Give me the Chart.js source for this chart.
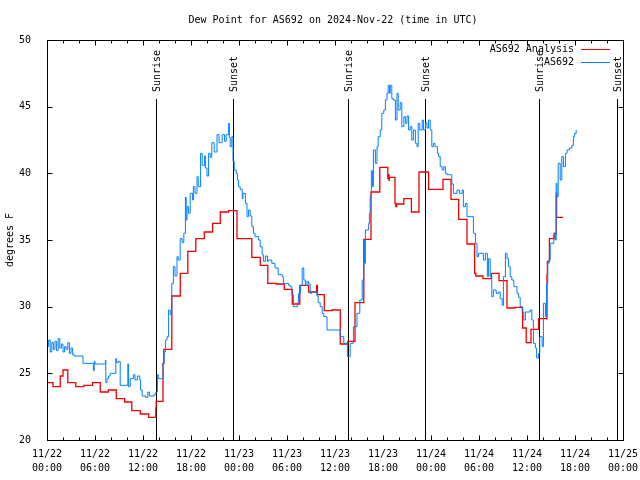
<!DOCTYPE html>
<html>
<head>
<meta charset="utf-8">
<title>Dew Point for AS692</title>
<script src="https://cdn.jsdelivr.net/npm/chart.js@4/dist/chart.umd.min.js"></script>
<style>
    html, body { margin: 0; padding: 0; background: #fff; }
    #wrap { width: 640px; height: 480px; }
</style>
</head>
<body>
<div id="wrap"><canvas id="chartDew"></canvas></div>
<script>
// hours since 11/22 00:00 UTC, dew point in degrees F
const analysisHours = [0, 0.75, 1.66, 2.0, 2.6, 3.6, 4.6, 5.7, 6.66, 7.66, 8.66, 9.7, 10.6, 11.66, 12.7,
    13.6, 13.65, 14.5, 14.6, 15.6, 16.66, 17.6, 18.6, 19.66, 20.7, 21.66, 22.7, 23.75, 25.6, 26.66,
    27.6, 28.66, 29.66, 30.66, 31.6, 32.7, 33.7, 33.8, 34.66, 35.6, 36.66, 37.6, 38.5, 39.6, 40.5,
    41.6, 42.6, 42.7, 42.75, 42.8, 43.5, 43.6, 43.7, 44.6, 45.55, 46.5, 47.7, 49.5, 50.5, 51.45,
    52.5, 53.45, 53.6, 54.5, 55.55, 56.5, 57.5, 58.5, 59.45, 59.9, 60.5, 61.45, 62.5, 62.55, 62.8,
    63.4, 63.65, 63.7, 64.5];
const analysisValues = [24.3, 24.0, 24.8, 25.25, 24.3, 24.0, 24.1, 24.3, 23.6, 23.75, 23.1, 22.85, 22.2, 21.95, 21.7,
    22.4, 22.9, 25.75, 26.8, 30.8, 32.5, 34.15, 35.1, 35.6, 36.25, 37.1, 37.2, 35.1, 33.7, 33.1,
    31.75, 31.7, 31.3, 30.2, 31.6, 31.1, 31.6, 30.9, 29.7, 29.75, 27.2, 27.4, 30.3, 35.05, 38.6,
    40.45, 39.6, 39.9, 39.5, 39.7, 37.75, 37.5, 37.7, 38.1, 37.1, 40.1, 38.8, 39.55, 38.05, 36.55,
    34.7, 32.5, 32.3, 32.1, 32.5, 31.95, 29.9, 29.95, 28.4, 27.3, 28.3, 29.1, 32.4, 33.4, 35.1,
    35.5, 38.5, 36.7, 36.7];

const obsHours = [0.0, 0.2, 0.4, 0.6, 0.8, 1.0, 1.2, 1.4, 1.6, 1.8, 2.0, 2.2, 2.4, 2.6, 2.8, 3.0, 3.2, 3.4,
    4.5, 5.8, 5.9, 6.0, 7.2, 7.3, 7.35, 7.5, 7.7, 7.9, 8.6, 8.7, 8.9, 9.15, 10.1, 10.2, 10.4, 10.8,
    11.0, 11.3, 11.6, 11.7, 11.9, 12.3, 12.6, 12.8, 13.4, 13.6, 13.8, 13.9, 14.2, 14.5, 14.65, 14.8,
    15.0, 15.2, 15.4, 15.6, 15.8, 16.0, 16.25, 16.4, 16.65, 16.9, 17.1, 17.3, 17.4, 17.5, 17.7, 17.9,
    18.2, 18.3, 18.5, 18.75, 18.9, 19.2, 19.4, 19.7, 19.8, 20.0, 20.2, 20.4, 20.6, 20.9, 21.25, 21.5,
    21.9, 22.2, 22.4, 22.7, 22.8, 22.9, 23.1, 23.25, 23.4, 23.65, 23.8, 23.95, 24.15, 24.4, 24.5, 24.8,
    25.0, 25.2, 25.4, 25.6, 25.8, 26.0, 26.45, 26.65, 26.9, 27.05, 27.3, 27.55, 27.7, 28.1, 28.5, 28.9,
    29.4, 29.55, 29.8, 30.2, 30.4, 30.6, 30.8, 31.05, 31.3, 31.45, 31.7, 31.9, 32.1, 32.3, 32.5, 32.7,
    32.9, 33.1, 33.75, 33.9, 34.15, 34.4, 34.6, 35.0, 36.65, 37.1, 37.55, 37.9, 38.3, 38.75, 39.1, 39.4,
    39.6, 39.7, 39.8, 40.2, 40.3, 40.4, 40.55, 40.7, 40.8, 41.05, 41.25, 41.4, 41.65, 41.85, 42.1, 42.3,
    42.5, 42.65, 42.8, 42.9, 43.1, 43.3, 43.55, 43.75, 43.9, 44.15, 44.35, 44.6, 44.8, 45.0, 45.2, 45.4,
    45.6, 45.8, 46.05, 46.25, 46.4, 46.6, 46.9, 47.05, 47.3, 47.5, 47.7, 47.9, 48.1, 48.3, 48.5, 48.8,
    48.95, 49.15, 49.4, 49.6, 49.8, 50.0, 50.4, 50.6, 50.8, 51.25, 51.55, 51.9, 52.05, 52.3, 52.5, 53.1,
    53.3, 53.55, 53.75, 53.95, 54.4, 54.55, 54.8, 55.05, 55.2, 55.4, 55.6, 55.8, 56.15, 56.45, 56.65, 56.9,
    57.05, 57.3, 57.5, 57.7, 57.9, 58.1, 58.35, 58.55, 58.75, 58.95, 59.15, 59.4, 59.6, 59.8, 60.4, 60.6,
    60.8, 61.05, 61.2, 61.45, 61.6, 61.9, 62.05, 62.3, 62.45, 62.6, 62.75, 62.9, 63.1, 63.35, 63.55, 63.65,
    63.75, 63.9, 64.15, 64.35, 64.55, 64.8, 65.0, 65.3, 65.6, 65.8, 65.95, 66.15];
const obsValues = [27.0, 27.5, 26.6, 27.3, 26.8, 27.4, 26.7, 27.6, 26.9, 27.2, 26.6, 27.0, 26.8, 27.3, 26.5, 26.9, 26.4, 26.3,
    25.75, 25.2, 25.9, 25.7, 25.7, 26.0, 24.3, 24.6, 24.8, 25.0, 26.1, 25.8, 25.9, 24.1, 25.7, 24.0, 24.6, 24.9,
    24.5, 24.8, 24.5, 23.75, 23.3, 23.2, 23.6, 23.3, 23.4, 23.6, 24.9, 24.6, 24.6, 25.75, 26.6, 27.5,
    27.75, 29.75, 29.4, 31.75, 33.0, 32.3, 33.75, 33.5, 35.1, 34.8, 35.5, 38.2, 36.5, 37.5, 37.0, 38.5,
    38.0, 39.0, 38.5, 39.75, 39.0, 41.5, 40.6, 41.3, 40.4, 39.8, 41.5, 41.2, 42.3, 41.6, 42.9, 42.3,
    42.9, 42.4, 42.9, 43.75, 42.7, 42.0, 42.75, 40.9, 40.25, 40.0, 39.5, 39.0, 38.8, 38.1, 38.5, 37.75,
    36.75, 37.25, 36.8, 36.0, 35.5, 35.25, 35.0, 34.5, 33.9, 33.4, 33.8, 33.4, 33.5, 33.25, 32.9, 32.4,
    32.25, 31.75, 31.75, 31.6, 31.5, 30.9, 30.0, 30.0, 30.3, 31.0, 31.6, 32.9, 32.0, 31.6, 31.9, 31.7,
    31.0, 31.1, 30.8, 30.3, 30.0, 29.5, 29.25, 28.25, 27.75, 27.25, 26.25, 27.25, 28.5, 29.5, 30.5, 32.0,
    35.0, 33.25, 35.75, 36.25, 37.0, 38.25, 40.2, 39.0, 41.75, 40.75, 42.0, 42.75, 43.25, 44.5, 44.75, 45.5,
    46.0, 46.6, 46.0, 46.6, 45.6, 45.5, 44.0, 46.0, 44.75, 45.3, 43.5, 44.25, 43.75, 44.3, 43.25, 43.5,
    42.5, 43.25, 42.25, 42.0, 43.75, 43.25, 44.0, 43.25, 43.8, 43.4, 44.0, 43.25, 42.0, 42.25, 42.0, 41.5,
    41.25, 40.5, 40.25, 40.5, 40.0, 39.9, 39.9, 39.2, 38.5, 38.75, 38.5, 38.75, 37.5, 37.75, 36.75, 36.75,
    35.5, 34.75, 33.75, 34.0, 34.0, 33.5, 34.0, 32.25, 33.6, 32.25, 30.75, 31.25, 31.0, 31.1, 30.6, 30.1,
    32.25, 34.0, 33.6, 33.0, 32.25, 32.0, 31.5, 31.5, 31.0, 30.7, 30.0, 29.6, 29.0, 29.6, 29.75, 29.0,
    27.25, 26.9, 26.15, 26.5, 27.75, 27.0, 30.25, 29.25, 31.75, 33.25, 33.5, 34.75, 34.75, 35.5, 35.0, 39.25,
    38.25, 40.75, 39.5, 41.25, 40.5, 41.5, 41.75, 41.9, 42.1, 42.75, 43.0, 43.25];

const eventHours = [13.58, 23.2, 37.58, 47.2, 61.45, 71.25];
const eventNames = ["Sunrise", "Sunset", "Sunrise", "Sunset", "Sunrise", "Sunset"];

const seriesNames = ["AS692 Analysis", "AS692"];
const seriesColors = ["#f00000", "#0080ff"];

const chartTitle = "Dew Point for AS692 on 2024-Nov-22 (time in UTC)";
const yTitle = "degrees F";
const FONT = "'DejaVu Sans Mono', 'Liberation Mono', monospace";

function toPoints(hours, values) {
    return hours.map((h, i) => ({ x: h, y: values[i] }));
}

function pad2(n) {
    return String(n).padStart(2, '0');
}

// ejes de gnuplot: marco, marcas hacia dentro, eventos, leyenda y titulo
const gnuplotFrame = {
    id: 'gnuplotFrame',
    beforeDatasetsDraw(chart) {
        const ctx = chart.ctx;
        const xs = chart.scales.x;
        const a = chart.chartArea;
        ctx.save();
        ctx.strokeStyle = '#000';
        ctx.lineWidth = 1;

        // lineas de amanecer / atardecer
        ctx.fillStyle = '#000';
        ctx.font = '10px ' + FONT;
        eventHours.forEach((h, i) => {
            const x = Math.round(xs.getPixelForValue(h)) + 0.5;
            ctx.beginPath();
            ctx.moveTo(x, a.bottom);
            ctx.lineTo(x, a.top + 59);
            ctx.stroke();
            ctx.save();
            ctx.translate(x + 1, a.top + 52);
            ctx.rotate(-Math.PI / 2);
            ctx.textAlign = 'left';
            ctx.textBaseline = 'middle';
            ctx.fillText(eventNames[i], 0, 0);
            ctx.restore();
        });
        ctx.restore();
    },
    afterDatasetsDraw(chart) {
        const ctx = chart.ctx;
        const xs = chart.scales.x;
        const ys = chart.scales.y;
        const a = chart.chartArea;
        ctx.save();
        ctx.strokeStyle = '#000';
        ctx.lineWidth = 1;
        const L = Math.round(a.left) + 0.5;
        const R = Math.round(a.right) + 0.5;
        const T = Math.round(a.top) + 0.5;
        const B = Math.round(a.bottom) + 0.5;
        ctx.strokeRect(L, T, R - L, B - T);

        ctx.beginPath();
        for (let h = xs.min; h <= xs.max; h += 2) {
            const x = Math.round(xs.getPixelForValue(h)) + 0.5;
            const len = h % 6 === 0 ? 5 : 3;
            ctx.moveTo(x, B); ctx.lineTo(x, B - len);
            ctx.moveTo(x, T); ctx.lineTo(x, T + len);
        }
        for (let v = ys.min; v <= ys.max; v += 5) {
            const y = Math.round(ys.getPixelForValue(v)) + 0.5;
            ctx.moveTo(L, y); ctx.lineTo(L + 5, y);
            ctx.moveTo(R, y); ctx.lineTo(R - 5, y);
        }
        ctx.stroke();

        // leyenda
        ctx.font = '10px ' + FONT;
        ctx.textAlign = 'right';
        ctx.textBaseline = 'middle';
        ctx.fillStyle = '#000';
        seriesNames.forEach((name, i) => {
            const y = 49.5 + i * 13;
            ctx.fillText(name, 574, y);
            ctx.strokeStyle = seriesColors[i];
            ctx.beginPath();
            ctx.moveTo(581, y);
            ctx.lineTo(610, y);
            ctx.stroke();
        });

        // titulo
        ctx.textAlign = 'center';
        ctx.fillText(chartTitle, 333, 20);
        ctx.restore();
    }
};

const ctxDew = document.getElementById('chartDew');

new Chart(ctxDew, {
    type: 'line',
    data: {
        datasets: [{
            label: seriesNames[1],
            data: toPoints(obsHours, obsValues),
            borderColor: seriesColors[1],
            borderWidth: 1,
            pointRadius: 0,
            stepped: true,
            order: 0
        }, {
            label: seriesNames[0],
            data: toPoints(analysisHours, analysisValues),
            borderColor: seriesColors[0],
            borderWidth: 1.3,
            pointRadius: 0,
            stepped: true,
            order: 1
        }]
    },
    options: {
        responsive: true,
        maintainAspectRatio: false,
        animation: false,
        events: [],
        layout: { padding: { top: 40, right: 17, bottom: 0, left: 0 } },
        plugins: {
            legend: { display: false },
            title: { display: false },
            tooltip: { enabled: false }
        },
        scales: {
            x: {
                type: 'linear',
                min: 0,
                max: 72,
                grid: { display: false },
                border: { display: false },
                ticks: {
                    stepSize: 6,
                    autoSkip: false,
                    maxRotation: 0,
                    padding: 0,
                    color: '#000',
                    font: { family: FONT, size: 10, lineHeight: 1.35 },
                    callback: v => ['11/' + (22 + Math.floor(v / 24)), pad2(v % 24) + ':00']
                },
                afterFit: s => {
                    s.height = 40;
                    s.paddingLeft = 0;
                    s.paddingRight = 0;
                }
            },
            y: {
                min: 20,
                max: 50,
                grid: { display: false },
                border: { display: false },
                ticks: {
                    stepSize: 5,
                    padding: 8,
                    color: '#000',
                    font: { family: FONT, size: 10 }
                },
                title: {
                    display: true,
                    text: yTitle,
                    color: '#000',
                    padding: { top: 4, bottom: 0 },
                    font: { family: FONT, size: 10 }
                },
                afterFit: s => {
                    s.width = 47;
                    s.paddingTop = 0;
                    s.paddingBottom = 0;
                }
            }
        }
    },
    plugins: [gnuplotFrame]
});
</script>
</body>
</html>
